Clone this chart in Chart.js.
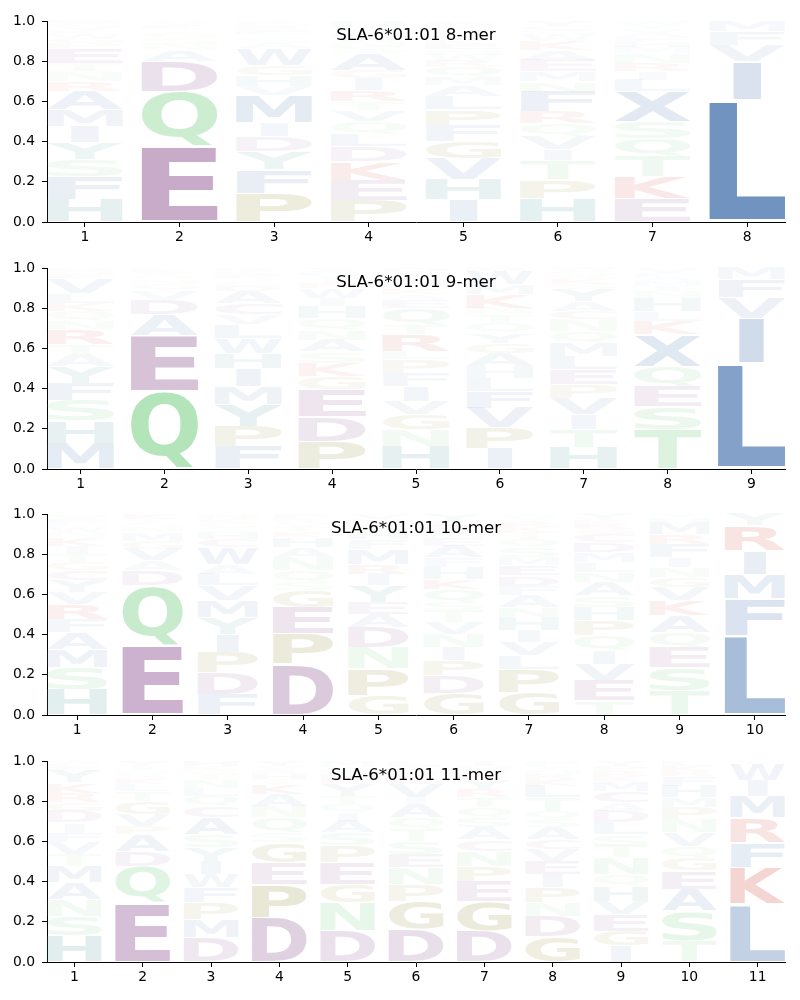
<!DOCTYPE html>
<html lang="en">
<head>
<meta charset="UTF-8">
<title>SLA-6*01:01 peptide logos</title>
<script src="https://cdn.jsdelivr.net/npm/chart.js"></script>
<style>
  body { margin: 0; background: #fff; }
  #wrap { position: relative; width: 800px; height: 1000px; }
  canvas { position: absolute; left: 0; }
</style>
</head>
<body>
<div id="wrap">
  <canvas id="logo8" width="800" height="247" style="top:0px"></canvas>
  <canvas id="logo9" width="800" height="247" style="top:247px"></canvas>
  <canvas id="logo10" width="800" height="247" style="top:493px"></canvas>
  <canvas id="logo11" width="800" height="260" style="top:740px"></canvas>
</div>
<script>
// ---- data: letters per position (bottom to top) and the top edge of each letter in the stack ----
const panelTitles = ['SLA-6*01:01 8-mer', 'SLA-6*01:01 9-mer', 'SLA-6*01:01 10-mer', 'SLA-6*01:01 11-mer'];
const yTicks = [0, 0.2, 0.4, 0.6, 0.8, 1.0];

const mer8Letters = ['HFSYIMARNTEPGWKVCD', 'EQDANSGTKYV', 'PFYDIMVHGWASTERNK', 'PEKDLQVTRIGASNWFYMH',
  'IHVGFPLAMQRWNEKYSTDC', 'HPTIVQRFNMEAKWSGY', 'EKTQSXLIRNMHFAVYW', 'LIVFM'];
const mer8Tops = [
  [.114, .226, .312, .395, .478, .56, .652, .70, .748, .79, .864, .89, .915, .937, .957, .975, .988, 1],
  [.375, .648, .80, .856, .886, .914, .938, .958, .975, .99, 1],
  [.143, .259, .35, .425, .494, .632, .677, .731, .781, .864, .89, .915, .935, .955, .972, .987, 1],
  [.106, .209, .30, .375, .438, .50, .557, .60, .657, .715, .756, .839, .87, .895, .918, .94, .96, .978, 1],
  [.11, .212, .317, .403, .483, .56, .627, .68, .72, .77, .80, .83, .858, .883, .905, .927, .948, .968, .985, 1],
  [.118, .209, .305, .362, .428, .491, .549, .648, .698, .748, .806, .856, .90, .93, .955, .975, 1],
  [.118, .226, .325, .416, .50, .648, .706, .748, .79, .839, .87, .895, .918, .94, .96, .98, 1],
  [.607, .798, .88, .947, 1]
];

const mer9Letters = ['MHSFYATRNQKLVEGD', 'QEADVGNSTKL', 'FPYMIHWLVCADGSEKR', 'PDEGKSANQHIWRTVFY',
  'HNGVIFPLRTQEAKSMWYD', 'IPVFLHAGYQTNKMWR', 'HTIVPELMQNCAYSKRGW', 'TSEQXKLHNIMAFV', 'LIVFM'];
const mer9Tops = [
  [.129, .237, .34, .428, .51, .569, .619, .693, .735, .784, .826, .876, .95, .97, .985, 1],
  [.386, .665, .768, .842, .892, .92, .942, .96, .975, .99, 1],
  [.113, .212, .32, .411, .502, .577, .652, .718, .768, .826, .884, .91, .932, .952, .97, .986, 1],
  [.138, .262, .395, .461, .527, .585, .643, .693, .751, .809, .851, .90, .925, .948, .966, .984, 1],
  [.113, .196, .27, .337, .411, .478, .544, .585, .668, .718, .80, .842, .87, .895, .918, .94, .96, .98, 1],
  [.104, .204, .303, .386, .453, .511, .577, .627, .677, .726, .768, .801, .867, .917, .983, 1],
  [.109, .196, .27, .353, .42, .494, .561, .627, .685, .743, .784, .834, .892, .92, .945, .965, .983, 1],
  [.196, .312, .411, .511, .668, .735, .784, .851, .884, .91, .935, .955, .975, 1],
  [.526, .751, .851, .942, 1]
];

const mer10Letters = ['HSMAFRVYCGTIKNWLEQ', 'EQDAVGMNSTK', 'FDPIYMVLAWCHSGKN', 'DPEGSQNAHKTVRF',
  'GPNDAEYIRMFHSTKV', 'GDPINVTSQKHFAEMRLY', 'GPLVIHNAFDEMSQTKRYW', 'TEVIQPHSANLMDCGRKY',
  'TSEQAKVGNIFRMHY', 'LFMIRY'];
const mer10Tops = [
  [.126, .237, .328, .411, .478, .552, .61, .668, .718, .76, .801, .842, .884, .91, .935, .955, .975, 1],
  [.345, .643, .718, .768, .826, .867, .909, .935, .955, .975, 1],
  [.104, .212, .312, .403, .486, .569, .643, .701, .751, .834, .876, .909, .935, .955, .975, 1],
  [.254, .403, .536, .619, .66, .718, .784, .834, .884, .91, .935, .955, .975, 1],
  [.096, .229, .337, .436, .502, .561, .643, .701, .751, .826, .876, .91, .935, .955, .975, 1],
  [.108, .196, .27, .337, .403, .461, .519, .56, .627, .677, .735, .784, .842, .88, .91, .94, .965, 1],
  [.113, .229, .295, .362, .42, .486, .536, .594, .643, .693, .743, .784, .834, .876, .91, .935, .96, .98, 1],
  [.071, .171, .254, .32, .395, .469, .536, .594, .66, .71, .76, .809, .859, .90, .925, .95, .97, 1],
  [.121, .237, .337, .411, .494, .569, .635, .685, .735, .784, .851, .90, .958, .98, 1],
  [.393, .577, .701, .818, .942, 1]
];

const mer11Letters = ['HSNAMTVFIDGRKYELW', 'EQDAPVGTLKSNIY', 'DMPFWIYSACQLNTGKH', 'DPEGSQNAKTHRVY',
  'DNGEPSAIQTYKHRVM', 'DGPNESTQAIVKRHYL', 'DGEPNCASQTRYKVHI', 'GDNPIEVCASQTLKRHYF',
  'IGEVHQNTSLDACMKRPY', 'TSAEGQVNPMHFRKL', 'LKFRMIWV'];
const mer11Tops = [
  [.129, .229, .312, .395, .478, .536, .594, .643, .693, .751, .793, .842, .892, .95, .97, .985, 1],
  [.295, .478, .552, .635, .677, .735, .801, .851, .884, .91, .935, .955, .975, 1],
  [.121, .212, .295, .37, .436, .502, .569, .635, .718, .776, .826, .867, .909, .935, .955, .975, 1],
  [.221, .386, .494, .594, .643, .718, .776, .834, .884, .91, .935, .955, .975, 1],
  [.154, .295, .386, .494, .577, .643, .701, .743, .784, .826, .884, .91, .935, .955, .975, 1],
  [.163, .303, .386, .469, .536, .602, .66, .718, .784, .818, .884, .91, .935, .955, .975, 1],
  [.154, .303, .403, .478, .552, .61, .668, .718, .768, .818, .859, .909, .935, .955, .975, 1],
  [.129, .229, .295, .37, .436, .502, .561, .61, .668, .71, .751, .818, .876, .91, .935, .955, .975, 1],
  [.08, .154, .237, .303, .378, .436, .519, .577, .635, .693, .751, .793, .851, .90, .925, .95, .975, 1],
  [.104, .254, .362, .453, .519, .577, .643, .71, .768, .818, .876, .925, .95, .975, 1],
  [.287, .469, .594, .718, .826, .904, .983, 1]
];

// ---- colours by residue group ----
const groupColor = {
  blue: [112, 147, 192], purple: [158, 110, 162], green: [130, 210, 140],
  red: [210, 90, 80], olive: [160, 155, 80], teal: [85, 155, 155], pink: [185, 110, 150]
};
const residueGroup = {
  A: 'blue', F: 'blue', I: 'blue', L: 'blue', M: 'blue', V: 'blue', W: 'blue', X: 'blue',
  D: 'purple', E: 'purple', Q: 'green', N: 'green', S: 'green', T: 'green',
  K: 'red', R: 'red', P: 'olive', G: 'olive', H: 'teal', Y: 'teal', C: 'pink'
};

const GLYPH_FONT = 'bold 200px "DejaVu Sans"';
const metricCache = {};
function inkBox(ctx, ch) {
  if (!metricCache[ch]) {
    ctx.font = GLYPH_FONT;
    const m = ctx.measureText(ch);
    metricCache[ch] = {
      left: m.actualBoundingBoxLeft, w: m.actualBoundingBoxLeft + m.actualBoundingBoxRight,
      asc: m.actualBoundingBoxAscent, h: m.actualBoundingBoxAscent + m.actualBoundingBoxDescent
    };
  }
  return metricCache[ch];
}

function drawGlyph(ctx, ch, fill, x0, x1, yTop, yBot) {
  const b = inkBox(ctx, ch);
  const e = inkBox(ctx, 'E');
  const width = x1 - x0;
  // like logomaker: never stretch wider than an 'E' would be
  const sx = Math.min(width / b.w, width / e.w);
  const sy = (yBot - yTop) / b.h;
  const cx = (x0 + x1) / 2;
  ctx.save();
  ctx.translate(cx - b.w * sx / 2, yTop);
  ctx.scale(sx, sy);
  ctx.font = GLYPH_FONT;
  ctx.textAlign = 'left';
  ctx.textBaseline = 'alphabetic';
  ctx.fillStyle = fill;
  ctx.fillText(ch, b.left, b.asc);
  ctx.restore();
}

function makeLogoPlugin(letters, tops, title) {
  return {
    id: 'logo',
    afterDatasetsDraw(chart) {
      const { ctx, scales: { x, y } } = chart;
      const vpad = 0.05;
      letters.forEach((col, i) => {
        const pos = i + 1;
        const x0 = x.getPixelForValue(pos - 0.4);
        const x1 = x.getPixelForValue(pos + 0.4);
        let floor = 0;
        for (let k = 0; k < col.length; k++) {
          const ceil = tops[i][k];
          const h = ceil - floor;
          const ch = col[k];
          const c = groupColor[residueGroup[ch]];
          const a = Math.min(1, Math.pow(h / 0.6, 1.15));
          const fill = `rgba(${c[0]},${c[1]},${c[2]},${a.toFixed(3)})`;
          const yBot = y.getPixelForValue(floor + h * vpad / 2);
          const yTop = y.getPixelForValue(ceil - h * vpad / 2);
          drawGlyph(ctx, ch, fill, x0, x1, yTop, yBot);
          floor = ceil;
        }
      });
      const area = chart.chartArea;
      ctx.save();
      ctx.font = '16.67px "DejaVu Sans"';
      ctx.fillStyle = '#000';
      ctx.textAlign = 'center';
      ctx.textBaseline = 'middle';
      ctx.fillText(title, (area.left + area.right) / 2, area.top + 15);
      ctx.restore();
    }
  };
}

function buildLogo(canvasId, letters, tops, title) {
  const canvas = document.getElementById(canvasId);
  const n = letters.length;
  const positions = letters.map((_, i) => i + 1);
  const tickFont = { family: '"DejaVu Sans"', size: 13.9 };
  new Chart(canvas, {
    type: 'scatter',
    data: { datasets: [{ data: [], pointRadius: 0 }] },
    options: {
      responsive: false,
      animation: false,
      layout: { padding: { top: 21, right: 15, left: 0, bottom: canvas.height - 247 } },
      plugins: { legend: { display: false }, tooltip: { enabled: false } },
      scales: {
        x: {
          type: 'linear', min: 0.6, max: n + 0.4, offset: false,
          afterBuildTicks: s => { s.ticks = positions.map(v => ({ value: v })); },
          afterFit: s => { s.height = 25; },
          ticks: { font: tickFont, color: '#000', padding: 2, maxRotation: 0, callback: v => String(v) },
          grid: { display: true, drawOnChartArea: false, drawTicks: true, tickLength: 5, color: '#000' },
          border: { display: true, color: '#000', width: 1 }
        },
        y: {
          min: 0, max: 1,
          afterBuildTicks: s => { s.ticks = yTicks.map(v => ({ value: v })); },
          afterFit: s => { s.width = 47; },
          ticks: { font: tickFont, color: '#000', padding: 7, callback: v => v.toFixed(1) },
          grid: { display: true, drawOnChartArea: false, drawTicks: true, tickLength: 5, color: '#000' },
          border: { display: true, color: '#000', width: 1 }
        }
      }
    },
    plugins: [makeLogoPlugin(letters, tops, title)]
  });
}

buildLogo('logo8', mer8Letters, mer8Tops, panelTitles[0]);
buildLogo('logo9', mer9Letters, mer9Tops, panelTitles[1]);
buildLogo('logo10', mer10Letters, mer10Tops, panelTitles[2]);
buildLogo('logo11', mer11Letters, mer11Tops, panelTitles[3]);
</script>
</body>
</html>
